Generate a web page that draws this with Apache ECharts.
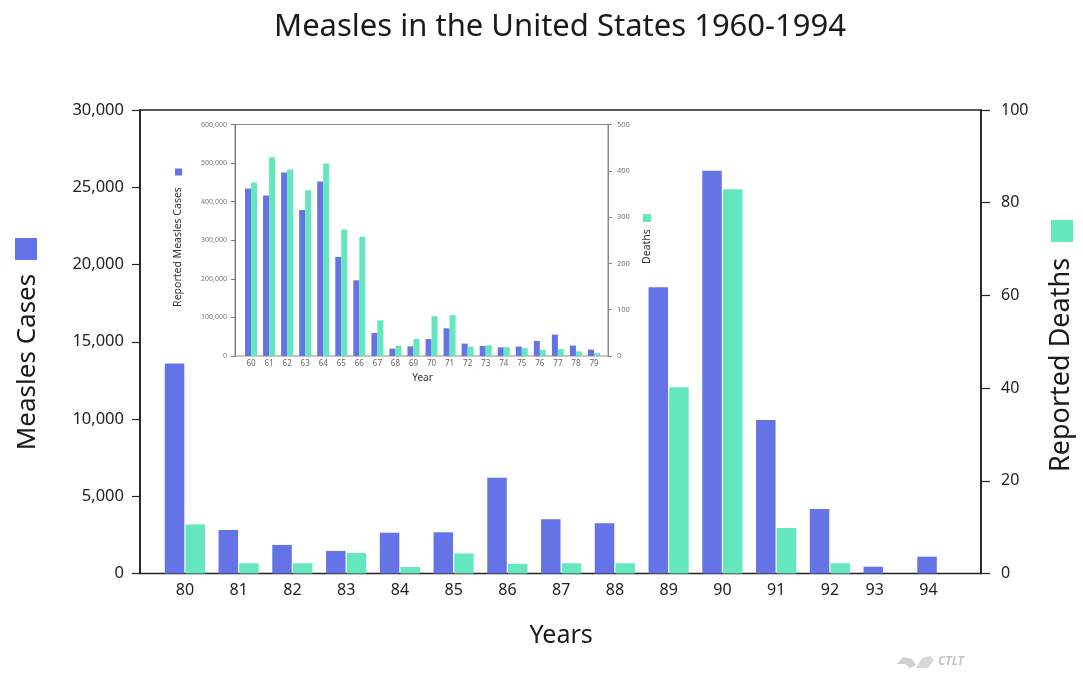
<!DOCTYPE html>
<html>
<head>
<meta charset="utf-8">
<title>Measles in the United States 1960-1994</title>
<script src="https://cdn.jsdelivr.net/npm/echarts@6/dist/echarts.min.js"></script>
<style>
  html, body { margin: 0; padding: 0; background: #ffffff; }
  #chart { width: 1083px; height: 673px; }
</style>
</head>
<body>
<div id="chart"></div>
<script>
// 1980-1994: reported measles cases and deaths
const mainYears  = ['80','81','82','83','84','85','86','87','88','89','90','91','92','93','94'];
const mainCases  = [13600, 2820, 1850, 1460, 2640, 2670, 6200, 3510, 3250, 18520, 26070, 9940, 4180, 440, 1090];
const mainDeaths = [10.6, 2.2, 2.2, 4.4, 1.4, 4.3, 2.1, 2.2, 2.2, 40.2, 82.9, 9.8, 2.2, 0, 0];

// 1960-1979: reported measles cases and deaths (inset)
const insetYears  = ['60','61','62','63','64','65','66','67','68','69','70','71','72','73','74','75','76','77','78','79'];
const insetCases  = [434000, 415800, 475500, 378500, 452000, 256700, 196200, 59600, 19000, 25100, 44100, 71800, 32100, 25900, 22500, 24400, 38900, 55500, 27000, 16600];
const insetDeaths = [375, 429, 403, 358, 416, 273, 257, 77, 22, 37, 86, 88, 20, 23, 19, 17, 13, 15, 10, 6];

// axis ranges and tick steps
const mainCaseAxis   = { min: 0, max: 30000, step: 5000 };
const mainDeathAxis  = { min: 0, max: 100, step: 20 };
const insetCaseAxis  = { min: 0, max: 600000, step: 100000 };
const insetDeathAxis = { min: 0, max: 500, step: 100 };

const BLUE = '#6473E6';
const GREEN = '#64E6BE';
const FONT = '"Noto Sans", "Open Sans", sans-serif';

const chart = echarts.init(document.getElementById('chart'), null, { renderer: 'canvas' });

const hiddenAxis = (grid) => ({ gridIndex: grid, show: false, type: 'value', min: 0, max: 1 });

const option = {
  backgroundColor: '#ffffff',
  animation: false,
  textStyle: { fontFamily: FONT },
  grid: [
    // main frame (box around the 1980s-90s chart)
    { left: 140, top: 110, width: 841, height: 463.5, show: true, borderColor: '#222', borderWidth: 1.6, backgroundColor: 'transparent' },
    // main bars
    { left: 158, top: 110, width: 806.25, height: 463.5 },
    // inset frame
    { left: 235, top: 124.5, width: 373, height: 231.5, show: true, borderColor: '#8c8c8c', borderWidth: 1, backgroundColor: 'transparent' },
    // inset bars
    { left: 242, top: 124.5, width: 361, height: 231.5 }
  ],
  xAxis: [
    hiddenAxis(0),
    {
      gridIndex: 1, type: 'category', data: mainYears,
      axisLine: { show: false }, axisTick: { show: false },
      axisLabel: {
        interval: 0, fontSize: 16, color: '#222', margin: 9, fontFamily: FONT,
        formatter: (v) => (v === '93' || v === '94') ? '{s|' + v + '}' : v,
        rich: { s: { fontSize: 16, color: '#222', fontFamily: FONT, padding: [0, 18, 0, 0] } }
      },
      name: 'Years', nameLocation: 'middle', nameGap: 50,
      nameTextStyle: { fontSize: 25, color: '#1a1a1a', fontFamily: FONT }
    },
    hiddenAxis(2),
    {
      gridIndex: 3, type: 'category', data: insetYears,
      axisLine: { show: false }, axisTick: { show: false },
      axisLabel: { interval: 0, fontSize: 8, color: '#666', margin: 4, fontFamily: FONT },
      name: 'Year', nameLocation: 'middle', nameGap: 17,
      nameTextStyle: { fontSize: 10, color: '#333', fontFamily: FONT }
    }
  ],
  yAxis: [
    hiddenAxis(0),
    {
      gridIndex: 1, type: 'value', position: 'left', offset: 18,
      min: mainCaseAxis.min, max: mainCaseAxis.max, interval: mainCaseAxis.step,
      axisLine: { show: true, lineStyle: { color: '#222', width: 1.6 } },
      axisTick: { show: true, length: 8, lineStyle: { color: '#222', width: 1.2 } },
      axisLabel: { fontSize: 16.5, color: '#222', margin: 16, fontFamily: FONT },
      splitLine: { show: false }
    },
    {
      gridIndex: 1, type: 'value', position: 'right', offset: 16.75,
      min: mainDeathAxis.min, max: mainDeathAxis.max, interval: mainDeathAxis.step,
      axisLine: { show: true, lineStyle: { color: '#222', width: 1.6 } },
      axisTick: { show: true, length: 9, lineStyle: { color: '#222', width: 1.2 } },
      axisLabel: { fontSize: 16, color: '#222', margin: 20, fontFamily: FONT },
      splitLine: { show: false }
    },
    hiddenAxis(2),
    {
      gridIndex: 3, type: 'value', position: 'left', offset: 7,
      min: insetCaseAxis.min, max: insetCaseAxis.max, interval: insetCaseAxis.step,
      axisLine: { show: true, lineStyle: { color: '#777', width: 1 } },
      axisTick: { show: true, length: 4, lineStyle: { color: '#777' } },
      axisLabel: { fontSize: 7, color: '#777', margin: 8, fontFamily: FONT },
      splitLine: { show: false }
    },
    {
      gridIndex: 3, type: 'value', position: 'right', offset: 5,
      min: insetDeathAxis.min, max: insetDeathAxis.max, interval: insetDeathAxis.step,
      axisLine: { show: true, lineStyle: { color: '#888', width: 1 } },
      axisTick: { show: true, length: 4, lineStyle: { color: '#888' } },
      axisLabel: { fontSize: 7.5, color: '#777', margin: 9, fontFamily: FONT },
      splitLine: { show: false }
    }
  ],
  series: [
    {
      name: 'Measles Cases', type: 'bar', xAxisIndex: 1, yAxisIndex: 1,
      data: mainCases, barWidth: 19.5, barGap: '6%',
      itemStyle: { color: BLUE }, z: 2
    },
    {
      name: 'Reported Deaths', type: 'bar', xAxisIndex: 1, yAxisIndex: 2,
      data: mainDeaths, barWidth: 19.5, barGap: '6%',
      itemStyle: { color: GREEN }, z: 2
    },
    {
      name: 'Reported Measles Cases', type: 'bar', xAxisIndex: 3, yAxisIndex: 4,
      data: insetCases, barWidth: 6, barGap: '0%',
      itemStyle: { color: BLUE }, z: 3
    },
    {
      name: 'Deaths', type: 'bar', xAxisIndex: 3, yAxisIndex: 5,
      data: insetDeaths, barWidth: 6, barGap: '0%',
      itemStyle: { color: GREEN }, z: 3
    }
  ],
  graphic: [
    {
      type: 'text', x: 560, y: 27,
      style: { text: 'Measles in the United States 1960-1994', font: '31px ' + FONT, fill: '#1a1a1a', textAlign: 'center', textVerticalAlign: 'middle' }
    },
    // left axis title + key
    { type: 'rect', shape: { x: 15, y: 238, width: 22, height: 22 }, style: { fill: BLUE } },
    {
      type: 'text', x: 28, y: 362, rotation: Math.PI / 2,
      style: { text: 'Measles Cases', font: '26px ' + FONT, fill: '#1a1a1a', textAlign: 'center', textVerticalAlign: 'middle' }
    },
    // right axis title + key
    { type: 'rect', shape: { x: 1051, y: 220, width: 22, height: 22 }, style: { fill: GREEN } },
    {
      type: 'text', x: 1061, y: 365, rotation: Math.PI / 2,
      style: { text: 'Reported Deaths', font: '27px ' + FONT, fill: '#1a1a1a', textAlign: 'center', textVerticalAlign: 'middle' }
    },
    // inset axis titles + keys
    { type: 'rect', shape: { x: 175, y: 168.5, width: 7, height: 7 }, style: { fill: BLUE }, z: 10 },
    {
      type: 'text', x: 178, y: 247, rotation: Math.PI / 2, z: 10,
      style: { text: 'Reported Measles Cases', font: '10.5px ' + FONT, fill: '#333', textAlign: 'center', textVerticalAlign: 'middle' }
    },
    { type: 'rect', shape: { x: 643, y: 214, width: 8, height: 8 }, style: { fill: GREEN }, z: 10 },
    {
      type: 'text', x: 647, y: 246.5, rotation: Math.PI / 2, z: 10,
      style: { text: 'Deaths', font: '10.5px ' + FONT, fill: '#333', textAlign: 'center', textVerticalAlign: 'middle' }
    },
    // footer mark
    {
      type: 'polygon', z: 10,
      shape: { points: [[897, 664], [903, 657], [912, 659], [916, 665], [910, 668], [905, 664]] },
      style: { fill: '#d0d0d0' }
    },
    {
      type: 'polygon', z: 10,
      shape: { points: [[916, 668], [922, 658], [930, 656], [934, 660], [928, 668]] },
      style: { fill: '#d8d8d8' }
    },
    {
      type: 'text', x: 938, y: 662, z: 10,
      style: { text: 'CTLT', font: 'italic bold 12px ' + FONT, fill: '#c4c4c4', textAlign: 'left', textVerticalAlign: 'middle' }
    }
  ]
};

chart.setOption(option);
</script>
</body>
</html>
